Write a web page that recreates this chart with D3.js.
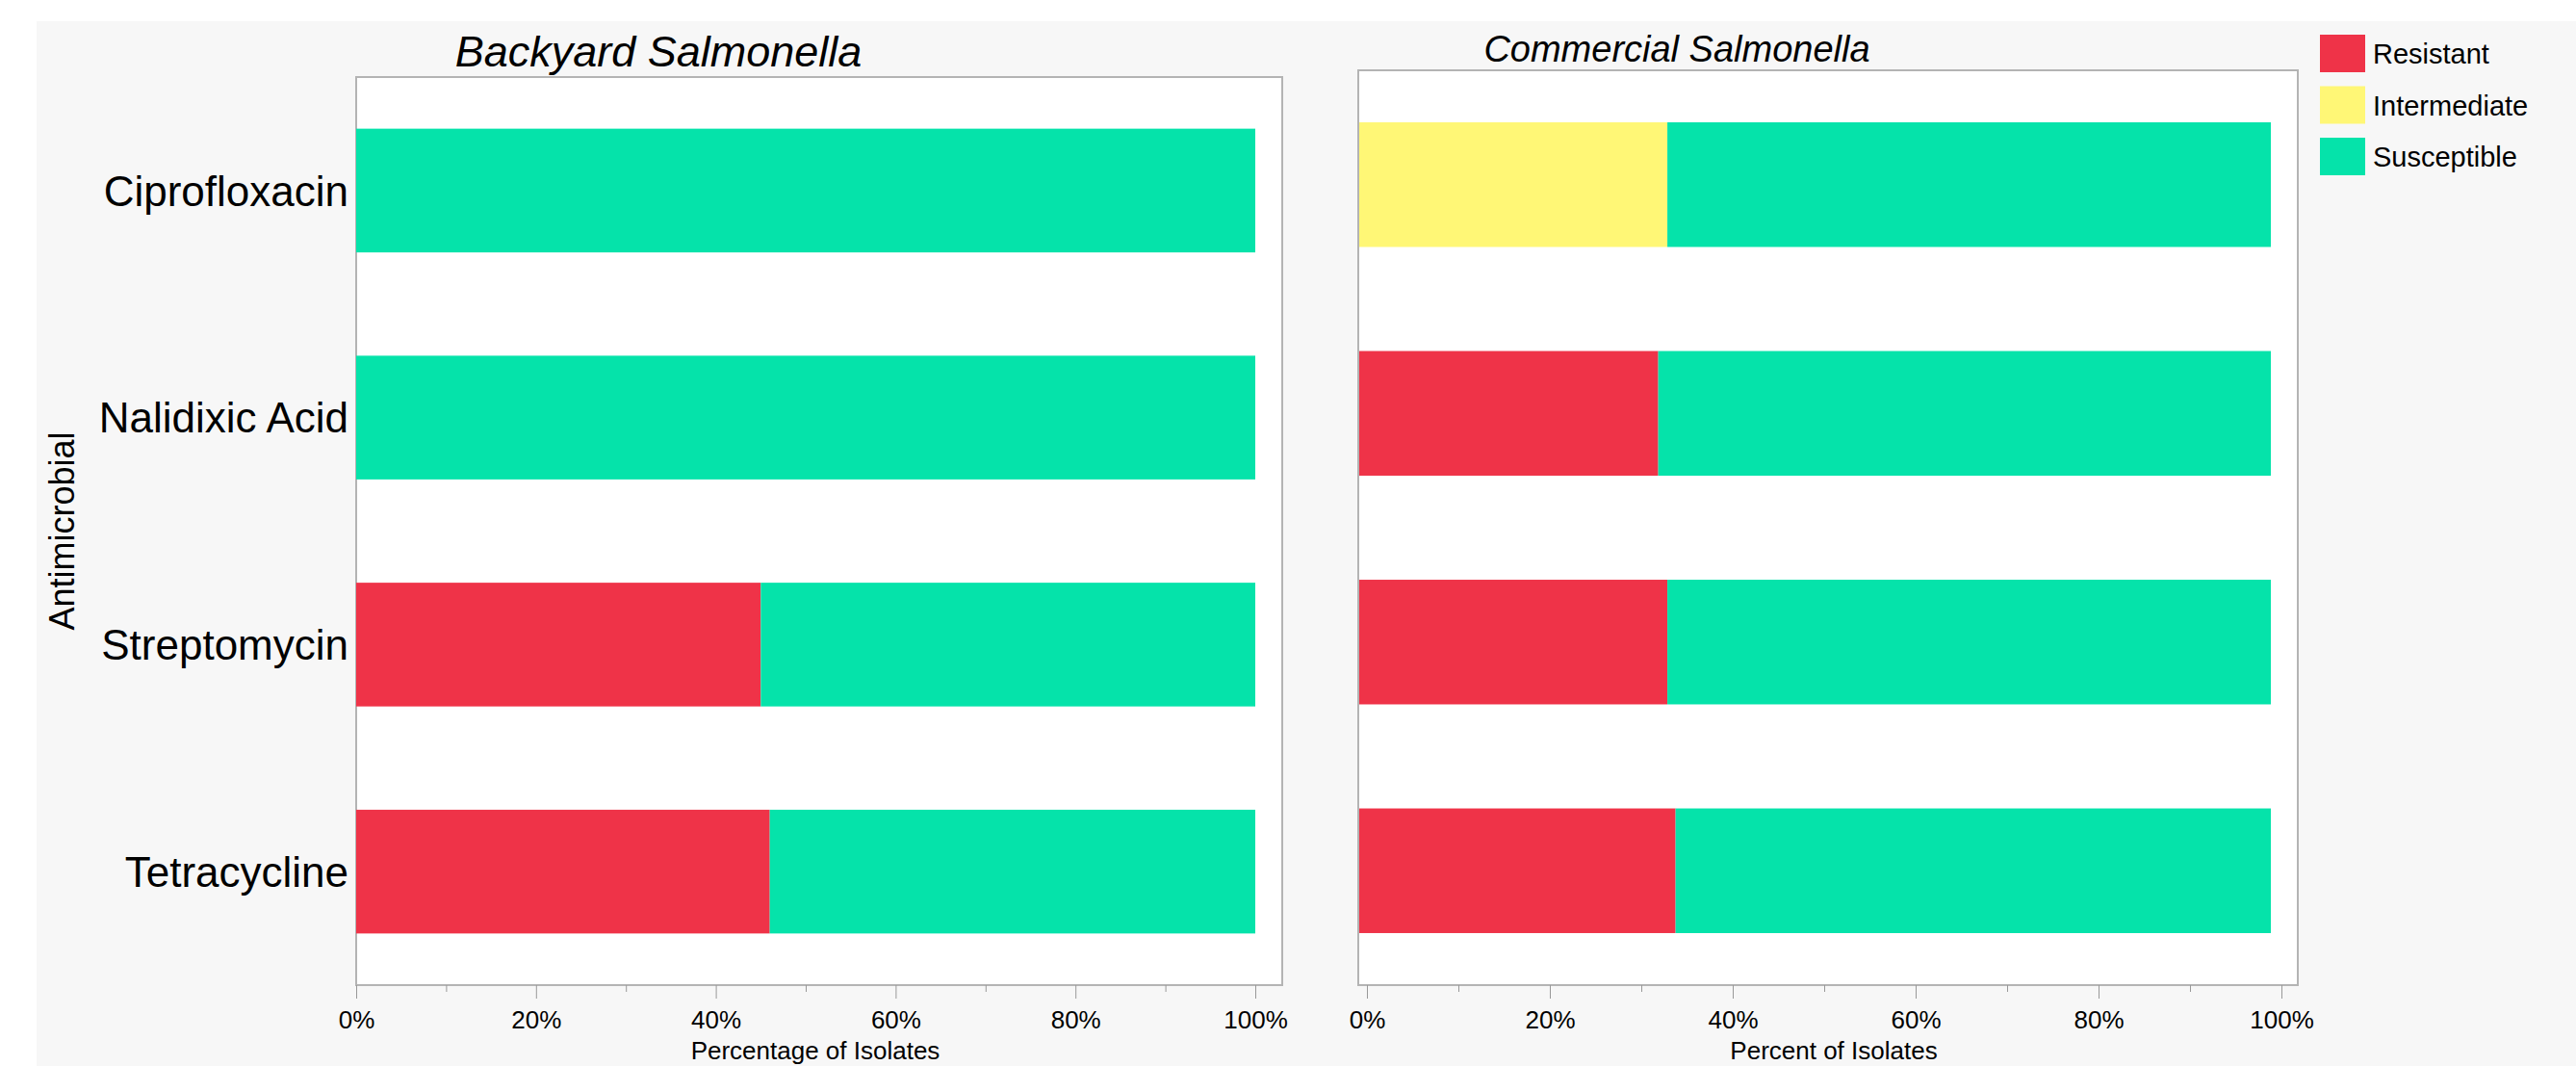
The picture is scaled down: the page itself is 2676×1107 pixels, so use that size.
<!DOCTYPE html>
<html><head>
<meta charset="utf-8">
<title>Salmonella antimicrobial resistance</title>
<style>
  body {margin:0; background:#fff;}
  svg text {font-family:"Liberation Sans", Arial, Helvetica, sans-serif; fill:#000;}
</style>
</head>
<body>
<script src="https://d3js.org/d3.v7.min.js"></script>
<script>
// data (percent of isolates)
var drugs = ["Ciprofloxacin", "Nalidixic Acid", "Streptomycin", "Tetracycline"];
var classes = ["Resistant", "Intermediate", "Susceptible"];
var classColors = ["#ef3348", "#fff776", "#05e3aa"];

var backyardResistant    = [0, 0, 45, 46];
var backyardIntermediate = [0, 0, 0, 0];
var backyardSusceptible  = [100, 100, 55, 54];

var commercialResistant    = [0, 32.8, 33.8, 34.7];
var commercialIntermediate = [33.8, 0, 0, 0];
var commercialSusceptible  = [66.2, 67.2, 66.2, 65.3];

var tickMajor = [0, 20, 40, 60, 80, 100];
var tickMinor = [10, 30, 50, 70, 90];

var width = 2676, height = 1107;

var svg = d3.select("body").append("svg")
    .attr("width", width)
    .attr("height", height);

// grey backdrop
svg.append("rect")
    .attr("x", 38).attr("y", 22)
    .attr("width", width - 38).attr("height", height - 22)
    .attr("fill", "#f7f7f7");

var color = d3.scaleOrdinal().domain(classes).range(classColors);

function rows(r, i, s) {
    return drugs.map(function(d, k) {
        return {drug: d, Resistant: r[k], Intermediate: i[k], Susceptible: s[k]};
    });
}

var stack = d3.stack().keys(classes);

function panel(opt) {
    var g = svg.append("g");

    // frame
    g.append("rect")
        .attr("x", opt.frame[0]).attr("y", opt.top)
        .attr("width", opt.frame[1] - opt.frame[0])
        .attr("height", opt.bottom - opt.top)
        .attr("fill", "#fff")
        .attr("stroke", "#b4b4b4")
        .attr("stroke-width", 2);

    var x = d3.scaleLinear().domain([0, 100]).range(opt.xRange);
    var y = d3.scaleBand().domain(drugs)
        .range([opt.top, opt.bottom])
        .paddingInner(0.455).paddingOuter(0.2275);

    var series = stack(opt.data);
    g.selectAll("g.layer")
        .data(series)
        .enter().append("g")
        .attr("class", "layer")
        .attr("fill", function(d) { return color(d.key); })
        .selectAll("rect")
        .data(function(d) { return d; })
        .enter().append("rect")
        .attr("x", function(d) { return x(d[0]); })
        .attr("width", function(d) { return x(d[1]) - x(d[0]); })
        .attr("y", function(d) { return y(d.data.drug); })
        .attr("height", y.bandwidth());

    // x axis (ticks can sit slightly off the bars, as in the original)
    var xa = x.copy().range(opt.axisRange);
    var axisG = g.append("g")
        .attr("transform", "translate(0," + opt.bottom + ")");
    axisG.call(d3.axisBottom(xa).tickValues(tickMajor)
            .tickSize(14).tickPadding(13)
            .tickFormat(function(d) { return d + "%"; }))
        .call(function(a) {
            a.select(".domain").attr("stroke", "#b4b4b4").attr("stroke-width", 2)
                .attr("d", "M" + opt.frame[0] + ",0H" + opt.frame[1]);
            a.selectAll(".tick line").attr("stroke", "#999");
            a.selectAll(".tick text").attr("font-size", 26)
                .style("font-family", "'Liberation Sans', Arial, sans-serif");
        });
    var minorG = g.append("g")
        .attr("transform", "translate(0," + opt.bottom + ")");
    minorG.call(d3.axisBottom(xa).tickValues(tickMinor).tickSize(7).tickFormat(""))
        .call(function(a) {
            a.select(".domain").remove();
            a.selectAll(".tick line").attr("stroke", "#999");
        });

    g.append("text")
        .attr("x", (opt.axisRange[0] + opt.axisRange[1]) / 2 + 10)
        .attr("y", 1100)
        .attr("text-anchor", "middle")
        .attr("font-size", 26)
        .text(opt.xTitle);

    g.append("text")
        .attr("x", opt.titleX)
        .attr("y", opt.titleY)
        .attr("text-anchor", "middle")
        .attr("font-size", opt.titleSize)
        .attr("font-style", "italic")
        .text(opt.title);

    if (opt.yLabels) {
        g.selectAll("text.ylab")
            .data(drugs)
            .enter().append("text")
            .attr("class", "ylab")
            .attr("x", opt.frame[0] - 8)
            .attr("y", function(d) { return y(d) + y.bandwidth() / 2; })
            .attr("dy", "0.36em")
            .attr("text-anchor", "end")
            .attr("font-size", 44)
            .text(function(d) { return d; });

        g.append("text")
            .attr("transform", "translate(77," + (opt.top + opt.bottom) / 2 + ") rotate(-90)")
            .attr("text-anchor", "middle")
            .attr("font-size", 36)
            .text("Antimicrobial");
    }
}

panel({
    data: rows(backyardResistant, backyardIntermediate, backyardSusceptible),
    frame: [370, 1332], top: 80, bottom: 1023,
    xRange: [370, 1304], axisRange: [370, 1304],
    title: "Backyard Salmonella", titleX: 684, titleY: 69, titleSize: 45,
    xTitle: "Percentage of Isolates", yLabels: true
});

panel({
    data: rows(commercialResistant, commercialIntermediate, commercialSusceptible),
    frame: [1411, 2387], top: 73, bottom: 1023,
    xRange: [1412, 2359], axisRange: [1420, 2370],
    title: "Commercial Salmonella", titleX: 1742, titleY: 64, titleSize: 38,
    xTitle: "Percent of Isolates", yLabels: false
});

// legend
var legend = svg.append("g").selectAll("g")
    .data(classes)
    .enter().append("g")
    .attr("transform", function(d, i) { return "translate(2410," + (36 + i * 53.5) + ")"; });
legend.append("rect")
    .attr("width", 47).attr("height", 39)
    .attr("fill", function(d) { return color(d); });
legend.append("text")
    .attr("x", 55).attr("y", 20)
    .attr("dy", "0.36em")
    .attr("font-size", 29)
    .text(function(d) { return d; });
</script>
</body></html>
